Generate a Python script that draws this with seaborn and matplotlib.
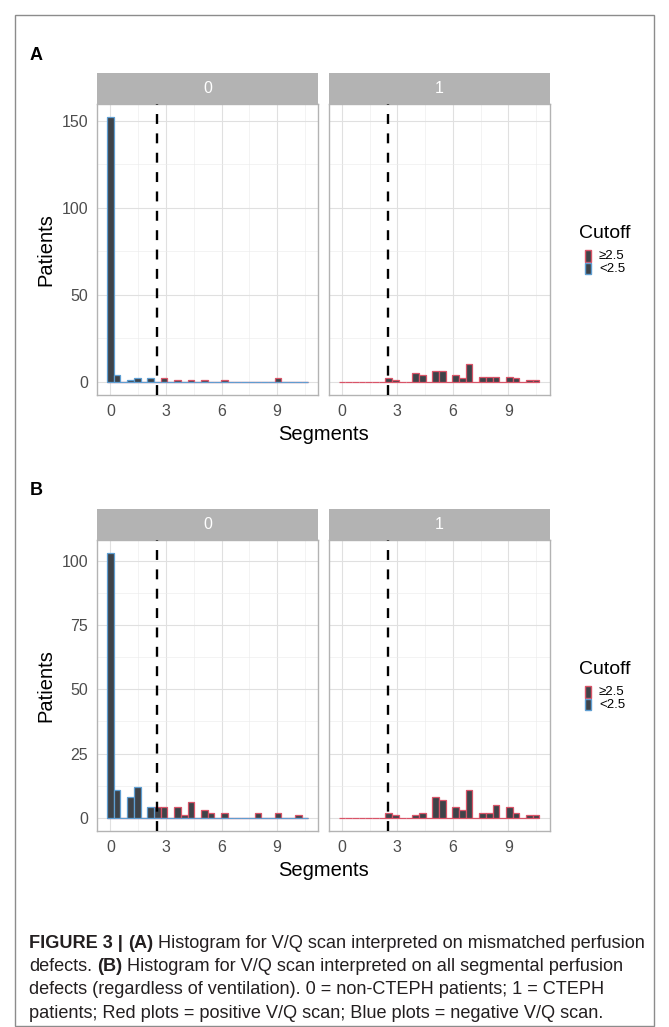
import numpy as np
import pandas as pd
import matplotlib
matplotlib.use("Agg")
import matplotlib.pyplot as plt
import seaborn as sns
from matplotlib.patches import Rectangle
from matplotlib.ticker import FixedLocator

# ---------------- data ----------------
# Panel A: mismatched perfusion defects
a_noncteph_segments = [0, 0.5, 1, 1.5, 2, 3, 3.5, 4.5, 5, 6, 9]
a_noncteph_patients = [152, 4, 1, 2, 2, 2, 1, 1, 1, 1, 2]
a_cteph_segments = [2.5, 3, 4, 4.5, 5, 5.5, 6, 6.5, 7, 7.5, 8, 8.5, 9, 9.5, 10, 10.5]
a_cteph_patients = [2, 1, 5, 4, 6, 6, 4, 2, 10, 3, 3, 3, 3, 2, 1, 1]

# Panel B: all segmental perfusion defects
b_noncteph_segments = [0, 0.5, 1, 1.5, 2, 2.5, 3, 3.5, 4, 4.5, 5, 5.5, 6, 8, 9, 10]
b_noncteph_patients = [103, 11, 8, 12, 4, 4, 4, 4, 1, 6, 3, 2, 2, 2, 2, 1]
b_cteph_segments = [2.5, 3, 4, 4.5, 5, 5.5, 6, 6.5, 7, 7.5, 8, 8.5, 9, 9.5, 10, 10.5]
b_cteph_patients = [2, 1, 1, 2, 8, 7, 4, 3, 11, 2, 2, 5, 4, 2, 1, 1]

facet_labels = ["0", "1"]
cutoff_value = 2.5
cutoff_labels = ["\u22652.5", "<2.5"]
x_ticks = [0, 3, 6, 9]
a_y_ticks = [0, 50, 100, 150]
b_y_ticks = [0, 25, 50, 75, 100]
n_bins = 30

caption_lines = [
    [("FIGURE 3 |", True), ("(A)", True),
     ("Histogram for V/Q scan interpreted on mismatched perfusion", False)],
    [("defects.", False), ("(B)", True),
     ("Histogram for V/Q scan interpreted on all segmental perfusion", False)],
    [("defects (regardless of ventilation). 0 = non-CTEPH patients; 1 = CTEPH", False)],
    [("patients; Red plots = positive V/Q scan; Blue plots = negative V/Q scan.", False)],
]

# ---------------- style ----------------
sns.set_style("white")
plt.rcParams["font.family"] = ["Liberation Sans", "DejaVu Sans"]

FILL = "#3e4349"
RED = "#D95468"
BLUE = "#5E9ED2"
EDGE = {cutoff_labels[0]: RED, cutoff_labels[1]: BLUE}
GREY70 = "#b3b3b3"
GRID = "#e0e0e0"
AXTXT = "#4d4d4d"

W, H, DPI = 669, 1027, 100
fig = plt.figure(figsize=(W / DPI, H / DPI), dpi=DPI)


def frect(x0, y0, x1, y1):
    return [x0 / W, 1 - y1 / H, (x1 - x0) / W, (y1 - y0) / H]


facet_x = [(97.0, 318.3), (328.5, 549.5)]
PANEL_H = 291
STRIP_H = 31

panels = [
    dict(tag="A", top=104, yticks=a_y_ticks,
         facets=[(a_noncteph_segments, a_noncteph_patients),
                 (a_cteph_segments, a_cteph_patients)]),
    dict(tag="B", top=540, yticks=b_y_ticks,
         facets=[(b_noncteph_segments, b_noncteph_patients),
                 (b_cteph_segments, b_cteph_patients)]),
]

for p in panels:
    top = p["top"]
    bottom = top + PANEL_H
    all_seg = np.concatenate([np.asarray(s, float) for s, _ in p["facets"]])
    vmin, vmax = all_seg.min(), all_seg.max()
    w = (vmax - vmin) / (n_bins - 1)
    edges = (vmin - w / 2 + w * np.arange(n_bins + 1)).tolist()
    span = edges[-1] - edges[0]
    xlim = (edges[0] - 0.05 * span, edges[-1] + 0.05 * span)
    ymax = max(max(c) for _, c in p["facets"])
    ylim = (-0.05 * ymax, 1.05 * ymax)
    yt = p["yticks"]
    ystep = yt[1] - yt[0]
    xstep = x_ticks[1] - x_ticks[0]
    xminor = [v for v in np.arange(x_ticks[0] - xstep / 2, xlim[1], xstep) if xlim[0] < v < xlim[1]]
    yminor = [v for v in np.arange(yt[0] - ystep / 2, ylim[1], ystep) if ylim[0] < v < ylim[1]]

    for fi, ((seg, cnt), (x0, x1)) in enumerate(zip(p["facets"], facet_x)):
        ax = fig.add_axes(frect(x0, top, x1, bottom))
        df = pd.DataFrame({"Segments": seg, "Patients": cnt})
        df["Cutoff"] = np.where(df["Segments"] >= cutoff_value, cutoff_labels[0], cutoff_labels[1])
        for z, lab in enumerate(cutoff_labels):
            sub = df[df["Cutoff"] == lab]
            if sub.empty:
                continue
            sns.histplot(data=sub, x="Segments", weights="Patients", bins=edges, ax=ax,
                         facecolor=FILL, edgecolor=EDGE[lab], linewidth=0.9,
                         alpha=1, zorder=3 + z, legend=False)
        ax.axvline(cutoff_value, color="black", lw=1.7, linestyle=(0, (4.2, 4.0)), zorder=6)
        ax.set_xlim(*xlim)
        ax.set_ylim(*ylim)
        ax.set_xlabel("")
        ax.set_ylabel("")
        ax.xaxis.set_major_locator(FixedLocator(x_ticks))
        ax.yaxis.set_major_locator(FixedLocator(yt))
        ax.xaxis.set_minor_locator(FixedLocator(xminor))
        ax.yaxis.set_minor_locator(FixedLocator(yminor))
        ax.set_axisbelow(True)
        ax.grid(which="major", color=GRID, lw=0.8)
        ax.grid(which="minor", color="#ececec", lw=0.45)
        ax.tick_params(which="minor", length=0)
        ax.tick_params(which="major", length=3.7, width=0.7, color=GREY70,
                       labelsize=11.5, labelcolor=AXTXT, pad=2.8)
        if fi == 1:
            ax.tick_params(axis="y", left=False, labelleft=False)
        for sp in ax.spines.values():
            sp.set_color(GREY70)
            sp.set_linewidth(1.0)
            sp.set_visible(True)
        # facet strip
        sax = fig.add_axes(frect(x0, top - STRIP_H, x1, top))
        sax.set_facecolor(GREY70)
        sax.set_xticks([])
        sax.set_yticks([])
        for sp in sax.spines.values():
            sp.set_visible(False)
        sax.text(0.5, 0.5, facet_labels[fi], color="white", fontsize=11.5,
                 ha="center", va="center", transform=sax.transAxes)

    # axis titles
    fig.text(46 / W, 1 - (top + PANEL_H / 2) / H, "Patients", rotation=90,
             ha="center", va="center", fontsize=14.5, color="black")
    fig.text((facet_x[0][0] + facet_x[1][1]) / 2 / W, 1 - (bottom + 40) / H, "Segments",
             ha="center", va="center", fontsize=14.5, color="black")
    # panel tag
    fig.text(30 / W, 1 - (top - 49) / H, p["tag"], fontsize=13, fontweight="bold",
             ha="left", va="center", color="black")
    # legend (title, keys, labels)
    lg_top = top + 129
    fig.text(579 / W, 1 - lg_top / H, "Cutoff", fontsize=14, ha="left", va="center",
             color="black")
    for k, lab in enumerate(cutoff_labels):
        ky0 = lg_top + 17 + k * 12.5
        fig.patches.append(Rectangle((585 / W, 1 - (ky0 + 11.5) / H), 6 / W, 11.5 / H,
                                     transform=fig.transFigure, facecolor=FILL,
                                     edgecolor=EDGE[lab], lw=1.0))
        fig.text(599 / W, 1 - (ky0 + 6) / H, lab, fontsize=9.5, ha="left", va="center",
                 color="black")

# outer box
fig.patches.append(Rectangle((15 / W, 1 - 1026 / H), (654 - 15) / W, (1026 - 15) / H,
                             transform=fig.transFigure, fill=False,
                             edgecolor="#8c8c8c", lw=1.0))

# caption with bold pieces
fig.canvas.draw()
renderer = fig.canvas.get_renderer()


def text_width(s, size, bold):
    t = fig.text(0, 0, s, fontsize=size, fontweight="bold" if bold else "normal")
    w = t.get_window_extent(renderer=renderer).width
    t.remove()
    return w


def space_width(size, bold):
    return text_width("x x", size, bold) - text_width("xx", size, bold)


def line_width(parts, size):
    tot = 0
    for i, (s, b) in enumerate(parts):
        tot += text_width(s, size, b)
        if i < len(parts) - 1:
            tot += space_width(size, b)
    return tot


cap_x0, cap_x1 = 29, 648
ref_size = 12.0
cap_size = ref_size * (cap_x1 - cap_x0) / line_width(caption_lines[0], ref_size)
cap_y = [943, 966.5, 990, 1013.5]
for parts, yc in zip(caption_lines, cap_y):
    x = cap_x0
    for i, (s, b) in enumerate(parts):
        fig.text(x / W, 1 - yc / H, s, fontsize=cap_size,
                 fontweight="bold" if b else "normal", ha="left", va="center",
                 color="#231f20")
        x += text_width(s, cap_size, b) + space_width(cap_size, b)

fig.savefig("out.png", dpi=DPI)
